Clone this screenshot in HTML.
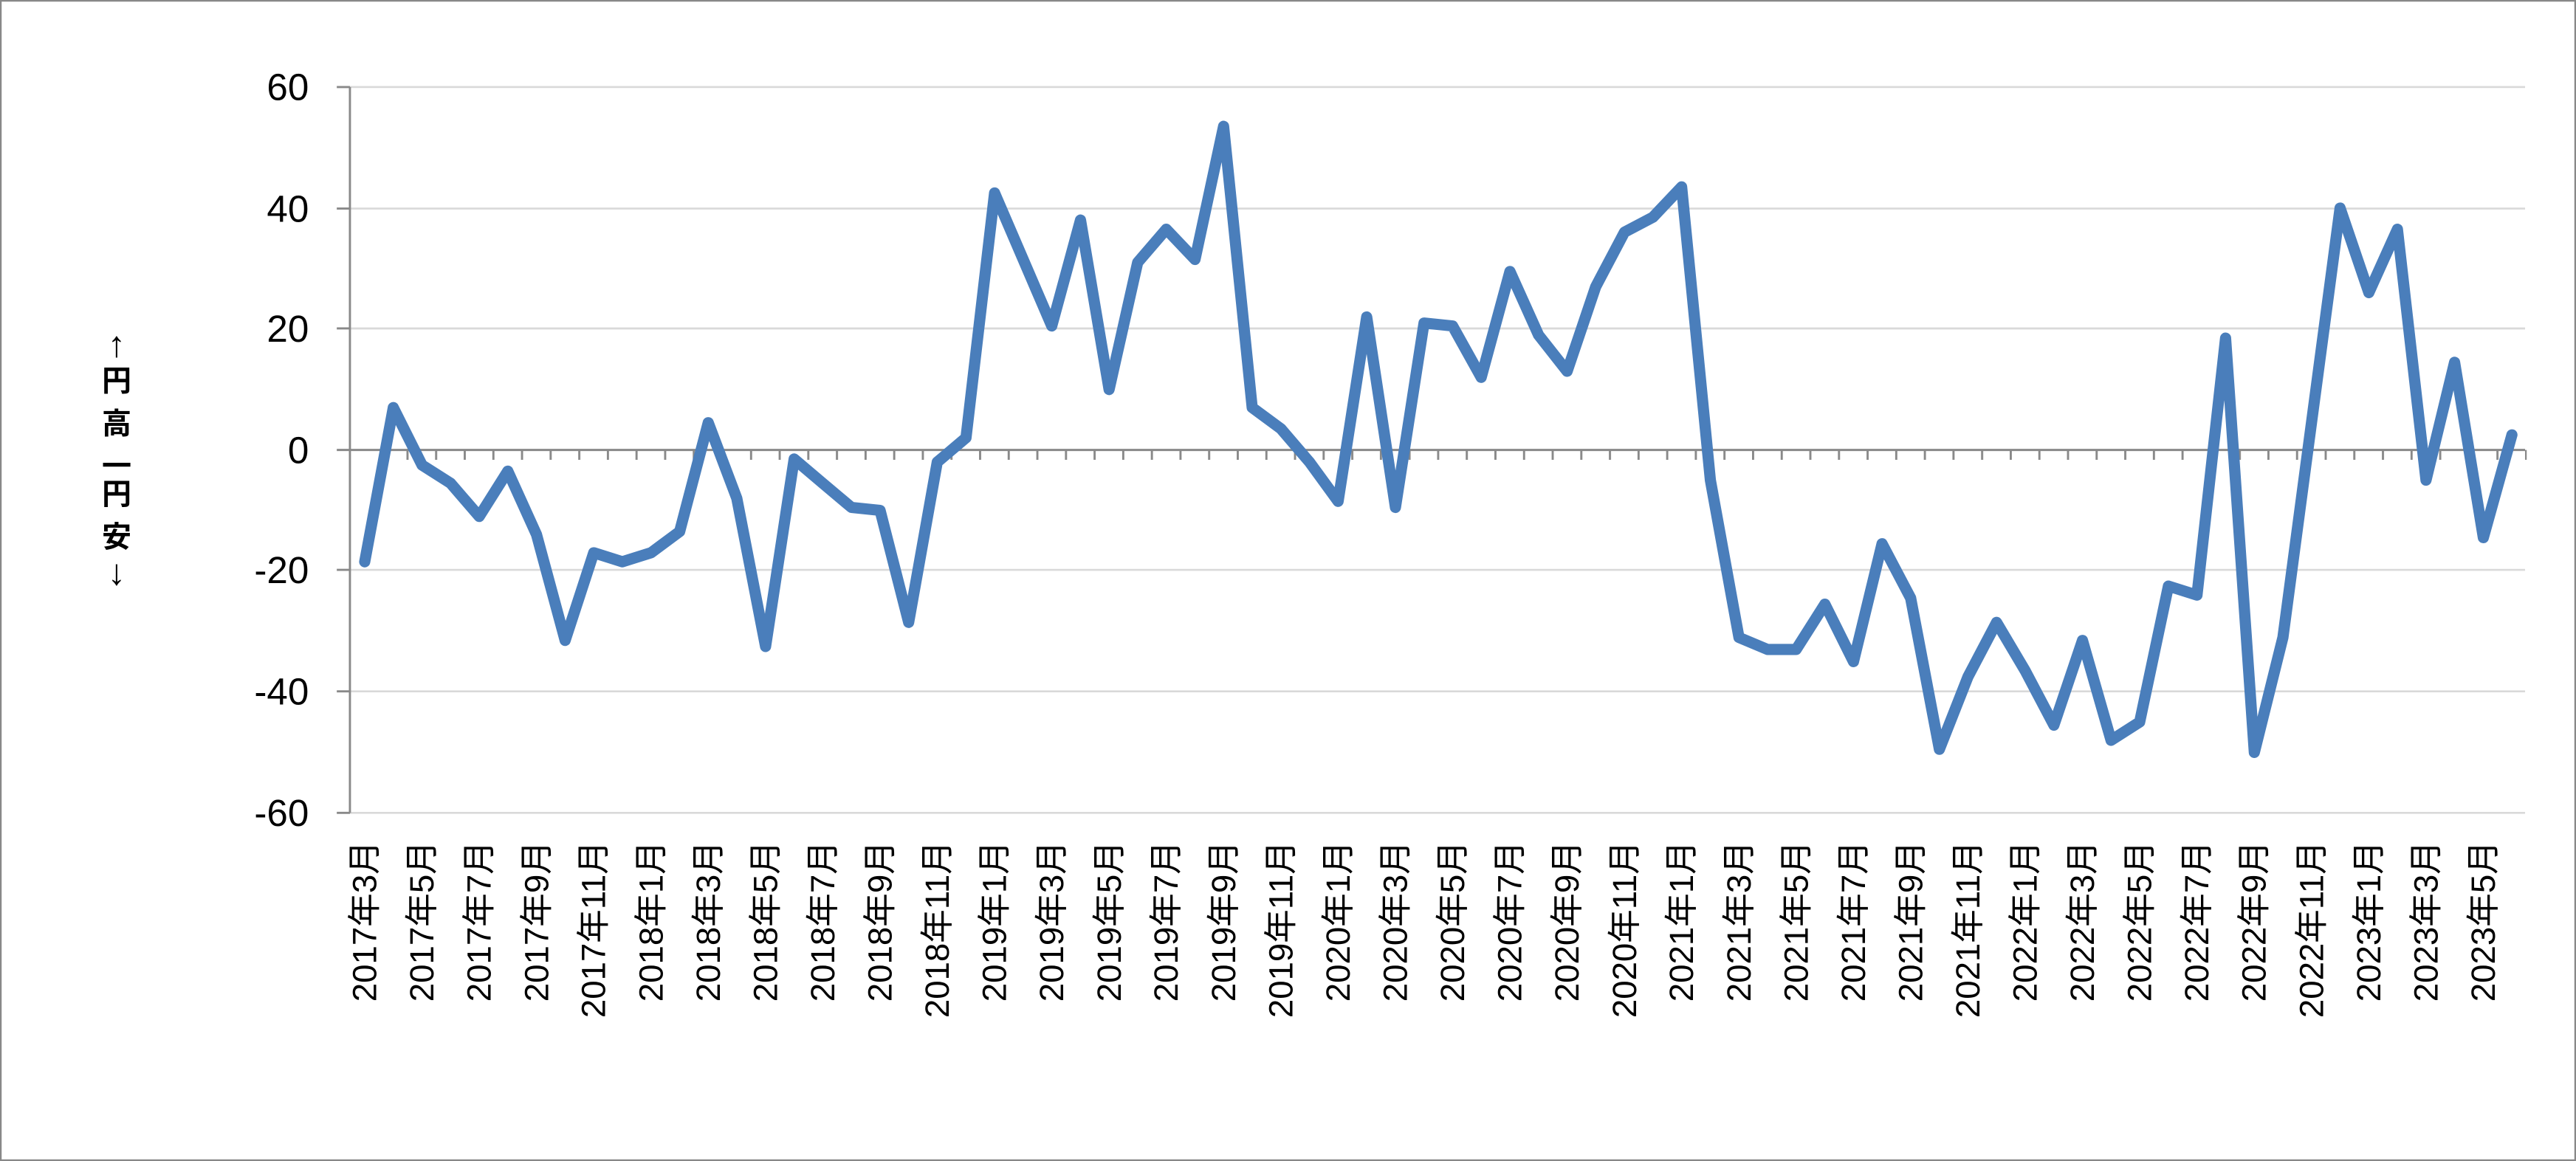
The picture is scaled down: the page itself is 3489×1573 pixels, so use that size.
<!DOCTYPE html>
<html><head><meta charset="utf-8"><style>html,body{margin:0;padding:0;background:#fff}svg{display:block}</style></head>
<body>
<svg width="3489" height="1573" viewBox="0 0 1568 707" preserveAspectRatio="none" xmlns="http://www.w3.org/2000/svg" font-family="Liberation Sans, Noto Sans CJK JP, sans-serif">
<defs>
<pattern id="tk" patternUnits="userSpaceOnUse" x="247.4" y="274" width="17.4267" height="7"><rect x="0" y="0" width="1.3" height="7" fill="#898989"/></pattern>
</defs>
<rect x="0.5" y="0.5" width="1567" height="706" fill="#fff" stroke="#888" stroke-width="1"/>
<g stroke="#d9d9d9" stroke-width="1.2">
<line x1="213" y1="53" x2="1537" y2="53"/><line x1="213" y1="127" x2="1537" y2="127"/><line x1="213" y1="200" x2="1537" y2="200"/><line x1="213" y1="347" x2="1537" y2="347"/><line x1="213" y1="421" x2="1537" y2="421"/><line x1="213" y1="495" x2="1537" y2="495"/>
</g>
<rect x="247" y="274" width="1291" height="6" fill="url(#tk)"/>
<g stroke="#898989" stroke-width="1.3">
<line x1="213" y1="53" x2="213" y2="495"/>
<line x1="205" y1="274" x2="1537" y2="274"/>
<line x1="205" y1="53" x2="213" y2="53"/><line x1="205" y1="127" x2="213" y2="127"/><line x1="205" y1="200" x2="213" y2="200"/><line x1="205" y1="347" x2="213" y2="347"/><line x1="205" y1="421" x2="213" y2="421"/><line x1="205" y1="495" x2="213" y2="495"/>
</g>
<g font-size="23" text-anchor="end" fill="#000">
<text x="188" y="61">60</text><text x="188" y="135">40</text><text x="188" y="208">20</text><text x="188" y="282">0</text><text x="188" y="355">-20</text><text x="188" y="429">-40</text><text x="188" y="503">-60</text>
</g>
<g font-size="18" font-weight="bold" text-anchor="middle" fill="#000">
<text x="71" y="217" font-size="22">↑</text><text x="71" y="238">円</text><text x="71" y="264">高</text><text x="71" y="290">一</text><text x="71" y="307">円</text><text x="71" y="333">安</text><text x="71" y="356" font-size="22">↓</text>
</g>
<g font-size="20.5" text-anchor="end" fill="#000">
<text transform="translate(229.0,512) rotate(-90)">2017年3月</text>
<text transform="translate(263.9,512) rotate(-90)">2017年5月</text>
<text transform="translate(298.7,512) rotate(-90)">2017年7月</text>
<text transform="translate(333.6,512) rotate(-90)">2017年9月</text>
<text transform="translate(368.4,512) rotate(-90)">2017年11月</text>
<text transform="translate(403.3,512) rotate(-90)">2018年1月</text>
<text transform="translate(438.1,512) rotate(-90)">2018年3月</text>
<text transform="translate(473.0,512) rotate(-90)">2018年5月</text>
<text transform="translate(507.8,512) rotate(-90)">2018年7月</text>
<text transform="translate(542.7,512) rotate(-90)">2018年9月</text>
<text transform="translate(577.5,512) rotate(-90)">2018年11月</text>
<text transform="translate(612.4,512) rotate(-90)">2019年1月</text>
<text transform="translate(647.2,512) rotate(-90)">2019年3月</text>
<text transform="translate(682.1,512) rotate(-90)">2019年5月</text>
<text transform="translate(716.9,512) rotate(-90)">2019年7月</text>
<text transform="translate(751.8,512) rotate(-90)">2019年9月</text>
<text transform="translate(786.6,512) rotate(-90)">2019年11月</text>
<text transform="translate(821.5,512) rotate(-90)">2020年1月</text>
<text transform="translate(856.4,512) rotate(-90)">2020年3月</text>
<text transform="translate(891.2,512) rotate(-90)">2020年5月</text>
<text transform="translate(926.1,512) rotate(-90)">2020年7月</text>
<text transform="translate(960.9,512) rotate(-90)">2020年9月</text>
<text transform="translate(995.8,512) rotate(-90)">2020年11月</text>
<text transform="translate(1030.6,512) rotate(-90)">2021年1月</text>
<text transform="translate(1065.5,512) rotate(-90)">2021年3月</text>
<text transform="translate(1100.3,512) rotate(-90)">2021年5月</text>
<text transform="translate(1135.2,512) rotate(-90)">2021年7月</text>
<text transform="translate(1170.0,512) rotate(-90)">2021年9月</text>
<text transform="translate(1204.9,512) rotate(-90)">2021年11月</text>
<text transform="translate(1239.7,512) rotate(-90)">2022年1月</text>
<text transform="translate(1274.6,512) rotate(-90)">2022年3月</text>
<text transform="translate(1309.4,512) rotate(-90)">2022年5月</text>
<text transform="translate(1344.3,512) rotate(-90)">2022年7月</text>
<text transform="translate(1379.1,512) rotate(-90)">2022年9月</text>
<text transform="translate(1414.0,512) rotate(-90)">2022年11月</text>
<text transform="translate(1448.8,512) rotate(-90)">2023年1月</text>
<text transform="translate(1483.7,512) rotate(-90)">2023年3月</text>
<text transform="translate(1518.6,512) rotate(-90)">2023年5月</text>
</g>
<polyline fill="none" stroke="#4a7ebb" stroke-width="6.8" stroke-linejoin="round" stroke-linecap="round" points="222.0,342.1 239.4,248.2 256.9,283.2 274.3,294.3 291.7,314.5 309.1,286.9 326.6,325.6 344.0,390.0 361.4,336.6 378.8,342.1 396.3,336.6 413.7,323.7 431.1,257.4 448.5,303.5 466.0,393.7 483.4,279.5 500.8,294.3 518.3,309.0 535.7,310.8 553.1,379.0 570.5,281.4 588.0,266.6 605.4,117.5 622.8,158.0 640.2,198.5 657.7,134.0 675.1,237.2 692.5,159.8 709.9,139.6 727.4,158.0 744.8,76.9 762.2,248.2 779.7,261.1 797.1,281.4 814.5,305.3 831.9,193.0 849.4,309.0 866.8,196.7 884.2,198.5 901.6,229.8 919.1,165.3 936.5,204.0 953.9,226.1 971.3,174.6 988.8,141.4 1006.2,132.2 1023.6,113.8 1041.1,292.4 1058.5,388.2 1075.9,395.5 1093.3,395.5 1110.8,367.9 1128.2,402.9 1145.6,331.1 1163.0,364.2 1180.5,456.3 1197.9,412.1 1215.3,379.0 1232.7,408.4 1250.2,441.6 1267.6,390.0 1285.0,450.8 1302.4,439.7 1319.9,356.9 1337.3,362.4 1354.7,205.9 1372.2,458.2 1389.6,388.2 1407.0,257.4 1424.4,126.7 1441.9,178.2 1459.3,139.6 1476.7,292.4 1494.1,220.6 1511.6,327.4 1529.0,264.8"/>
</svg>
</body></html>
